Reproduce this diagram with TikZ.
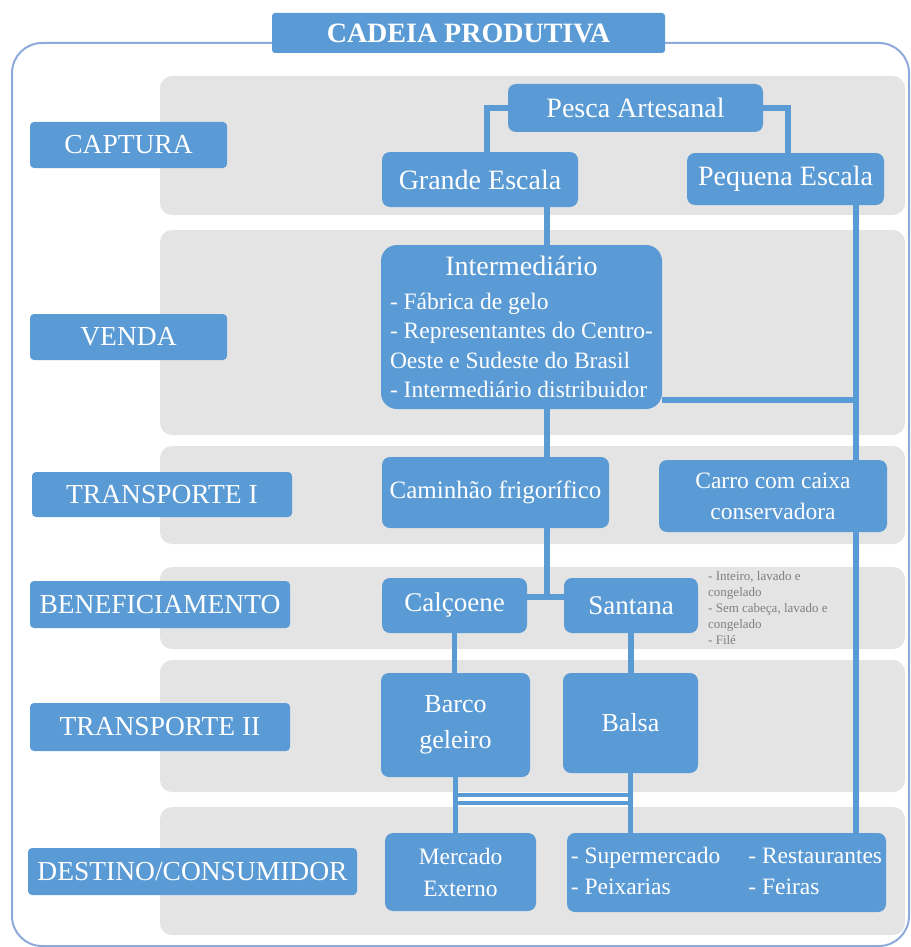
\documentclass[tikz,border=0pt]{standalone}
\usepackage{fontspec}
\setmainfont{Liberation Serif}
\usepackage{xcolor}
\usepackage{tikz}
\usetikzlibrary{positioning, calc}

\definecolor{azul}{HTML}{5B9BD5}
\definecolor{cinza}{HTML}{E4E4E4}
\definecolor{moldura}{HTML}{8EAADB}
\definecolor{nota}{HTML}{7F7F7F}

\begin{document}
\begin{tikzpicture}[
        x=1pt, y=-1pt,
        faixa/.style={fill=cinza, rounded corners=12pt},
        etapa/.style={rectangle, fill=azul, text=white, rounded corners=4pt, inner sep=0pt, font=\fontsize{27.5}{30}\selectfont},
        caixa/.style={rectangle, fill=azul, text=white, rounded corners=8pt, inner sep=2pt, align=center, font=\fontsize{28}{31}\selectfont},
        liga/.style={draw=azul, line width=5.5pt}
    ]
        \useasboundingbox (0,0) rectangle (910,947);

        % Moldura e titulo
        \draw[draw=moldura, line width=2pt, rounded corners=30pt] (12,43) rectangle (909,946);
        \node[etapa, font=\fontsize{28}{30}\selectfont\bfseries, minimum width=393pt, minimum height=40pt, rounded corners=3pt] (titulo) at (468.5,33) {CADEIA PRODUTIVA};

        % Faixas
        \fill[faixa] (160,76) rectangle (905,215);
        \fill[faixa] (160,230) rectangle (905,435);
        \fill[faixa] (160,446) rectangle (905,544);
        \fill[faixa] (160,567) rectangle (905,649);
        \fill[faixa] (160,660) rectangle (905,792);
        \fill[faixa] (160,807) rectangle (905,935);

        % Etapas
        \node[etapa, minimum width=197pt, minimum height=46pt] (captura) at (128.5,145) {CAPTURA};
        \node[etapa, minimum width=197pt, minimum height=46pt] (venda) at (128.5,337) {VENDA};
        \node[etapa, minimum width=260pt, minimum height=45pt] (transp1) at (162,494.5) {TRANSPORTE I};
        \node[etapa, minimum width=260pt, minimum height=47pt] (benef) at (160,604.5) {BENEFICIAMENTO};
        \node[etapa, minimum width=260pt, minimum height=48pt] (transp2) at (160,727) {TRANSPORTE II};
        \node[etapa, minimum width=329pt, minimum height=47pt] (destino) at (192.5,871.5) {DESTINO/CONSUMIDOR};

        % Captura
        \node[caixa, minimum width=255pt, minimum height=48pt] (pesca) at (635.5,108) {Pesca Artesanal};
        \node[caixa, minimum width=196pt, minimum height=55pt] (grande) at (480,179.5) {Grande Escala};
        \node[caixa, minimum width=197pt, minimum height=52pt] (pequena) at (785.5,179) {Pequena Escala};

        % Venda
        \node[caixa, minimum width=281pt, minimum height=164pt, rounded corners=16pt, align=left, font=\fontsize{23.5}{29.5}\selectfont] (inter) at (521.5,327)
            {\makebox[263pt]{\fontsize{28}{30}\selectfont Intermediário}\\[4pt]
             - Fábrica de gelo\\
             - Representantes do Centro-\\
             Oeste e Sudeste do Brasil\\
             - Intermediário distribuidor};

        % Transporte I
        \node[caixa, minimum width=227pt, minimum height=71pt, font=\fontsize{25}{28}\selectfont] (caminhao) at (495.5,492.5) {Caminhão frigorífico};
        \node[caixa, minimum width=228pt, minimum height=72pt, font=\fontsize{23.5}{31}\selectfont] (carro) at (773,496) {Carro com caixa\\conservadora};

        % Beneficiamento
        \node[caixa, minimum width=145pt, minimum height=55pt, font=\fontsize{27}{30}\selectfont] (calcoene) at (454.5,605.5) {Calçoene};
        \node[caixa, minimum width=134pt, minimum height=55pt, font=\fontsize{27}{30}\selectfont] (santana) at (631,605.5) {Santana};
        \node[anchor=north west, align=left, inner sep=0pt, text=nota, font=\fontsize{13}{16}\selectfont] (notaSantana) at (708,571)
            {- Inteiro, lavado e\\congelado\\- Sem cabeça, lavado e\\congelado\\- Filé};

        % Transporte II
        \node[caixa, minimum width=149pt, minimum height=104pt, font=\fontsize{26}{36}\selectfont] (barco) at (455.5,725) {Barco\\geleiro};
        \node[caixa, minimum width=135pt, minimum height=100pt, font=\fontsize{26}{36}\selectfont] (balsa) at (630.5,723) {Balsa};

        % Destino
        \node[caixa, minimum width=151pt, minimum height=78pt, font=\fontsize{23.5}{32}\selectfont] (mercado) at (460.5,872) {Mercado\\Externo};
        \node[caixa, minimum width=319pt, minimum height=79pt, font=\fontsize{23.5}{31}\selectfont] (varejo) at (726.5,872.5)
            {\begin{tabular}{@{}l@{\hspace{28pt}}l@{}}
             - Supermercado & - Restaurantes\\
             - Peixarias & - Feiras
             \end{tabular}};

        % Ligacoes
        \coordinate (eixoA) at (547,0);
        \coordinate (eixoB) at (856,0);
        \coordinate (juncao) at (856,400);
        \coordinate (juncaoB) at (547,597);
        \coordinate (cruzA) at (0,795);
        \coordinate (cruzB) at (0,803);

        \draw[liga] (pesca.west) -| ($(grande.north west)+(105,0)$);
        \draw[liga] (pesca.east) -| ($(pequena.north west)+(101,0)$);
        \draw[liga] (grande.south -| eixoA) -- (inter.north -| eixoA);
        \draw[liga] (pequena.south -| eixoB) -- (carro.north -| eixoB);
        \draw[liga] (carro.south -| eixoB) -- (varejo.north -| eixoB);
        \draw[liga] (inter.east |- juncao) -- (juncao);
        \draw[liga] (inter.south -| eixoA) -- (caminhao.north -| eixoA);
        \draw[liga] (caminhao.south -| eixoA) -- (juncaoB);
        \draw[liga] (calcoene.east |- juncaoB) -- (santana.west |- juncaoB);
        \draw[liga] (calcoene.south) -- (calcoene.south |- barco.north);
        \draw[liga] (santana.south) -- (santana.south |- balsa.north);
        \draw[liga] (barco.south) -- (barco.south |- mercado.north);
        \draw[liga] (balsa.south) -- (balsa.south |- varejo.north);
        \draw[liga, line width=4.5pt] (barco.south |- cruzA) -- (balsa.south |- cruzA);
        \draw[liga, line width=4.5pt] (barco.south |- cruzB) -- (balsa.south |- cruzB);

    \end{tikzpicture}
\end{document}
